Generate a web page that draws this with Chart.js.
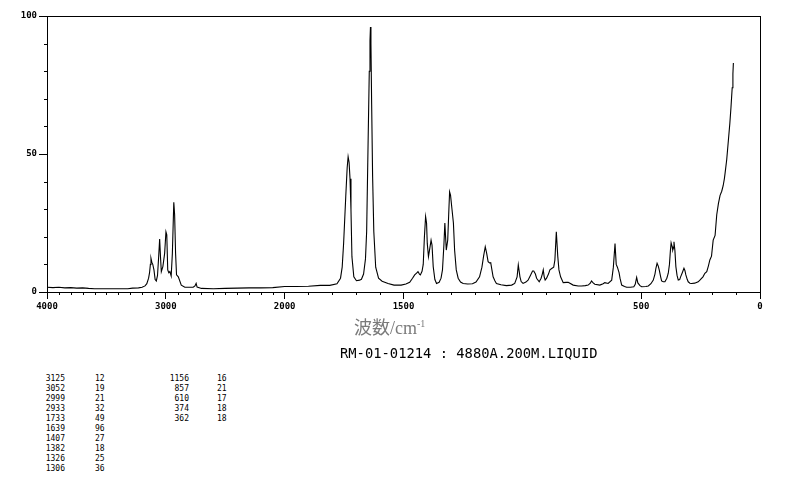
<!DOCTYPE html>
<html>
<head>
<meta charset="utf-8">
<script src="https://cdn.jsdelivr.net/npm/chart.js@4/dist/chart.umd.min.js"></script>
<style>
    body { margin: 0; background: #fff; width: 794px; height: 482px; position: relative; overflow: hidden; }
    #wrap { position: absolute; left: 0; top: 0; width: 794px; height: 322px; }
    .txt { position: absolute; white-space: pre; color: #000; }
    #xlabel { left: 354px; top: 318px; font-family: "Liberation Serif", "Noto Sans CJK JP", serif; font-size: 18px; color: #7a7a7a; line-height: 20px; }
    #xlabel sup { font-size: 10px; vertical-align: 7px; line-height: 0; }
    #sample { left: 340px; top: 346px; font-family: "DejaVu Sans Mono", monospace; font-size: 13.8px; line-height: 14px; }
    .col { position: absolute; top: 374px; font-family: "DejaVu Sans Mono", monospace; font-size: 8px; line-height: 10px; white-space: pre; }
</style>
</head>
<body>
<div id="wrap"><canvas id="chart"></canvas></div>
<div class="txt" id="xlabel">波数/cm<sup>-1</sup></div>
<div class="txt" id="sample">RM-01-01214 : 4880A.200M.LIQUID</div>
<div id="table"></div>
<script>
// spectrum (wavenumber cm-1, relative intensity)
const wavenumbers = [
    4000, 3950, 3900, 3850, 3800, 3750, 3700, 3650, 3600, 3500, 3400, 3320, 3280, 3230, 3200, 3175, 3160, 3145, 3137, 3130,
    3125, 3118, 3110, 3100, 3090, 3080, 3070, 3060, 3052, 3045, 3038, 3025, 3010, 2999, 2992, 2984, 2975, 2966, 2955, 2945,
    2933, 2926, 2918, 2910, 2895, 2870, 2840, 2770, 2755, 2745, 2737, 2700, 2600, 2500, 2400, 2300, 2200, 2100, 2000,
    1950, 1900, 1850, 1810, 1780, 1765, 1758, 1752, 1743, 1737, 1733, 1729, 1725, 1721, 1717, 1709, 1698, 1685, 1677, 1668,
    1660, 1655, 1649, 1644, 1641, 1639, 1637, 1634, 1630, 1625, 1617, 1605, 1590, 1565, 1540, 1510, 1490, 1474, 1462, 1453,
    1445, 1439, 1433, 1429, 1422, 1417, 1412, 1407, 1403, 1400, 1395, 1389, 1384, 1380, 1375, 1368, 1361, 1350, 1342, 1336,
    1330, 1326, 1320, 1314, 1309, 1306, 1302, 1296, 1290, 1285, 1278, 1270, 1260, 1249, 1230, 1210, 1195, 1180, 1170, 1163,
    1156, 1150, 1144, 1138, 1133, 1128, 1123, 1115, 1109, 1090, 1067, 1045, 1032, 1022, 1017, 1010, 1005, 997, 985,
    976, 966, 957, 952, 945, 940, 929, 921, 916, 912, 908, 904, 898, 890, 884, 875, 868, 863, 857,
    851, 846, 839, 828, 815, 807, 786, 765, 751, 735, 723, 714, 709, 702, 695, 674, 660, 653, 639,
    624, 617, 610, 605, 600, 593, 589, 582, 570, 561, 545, 531, 525, 519, 514, 505,
    498, 480, 470, 459, 449, 442, 438, 433, 428, 424, 418, 414, 407, 400, 392, 386, 381, 377, 374, 370,
    367, 364, 362, 358, 354, 349, 344, 338, 334, 327, 320, 316, 312, 306, 302, 295, 288, 275, 260, 253,
    240, 232, 224, 217, 211, 204, 197, 189, 182, 175, 168, 161, 155, 150, 147, 140, 133, 127, 122, 117,
    114, 112
];
const intensity = [
    1.7, 1.6, 1.7, 1.5, 1.6, 1.4, 1.5, 1.3, 1.2, 1.2, 1.2, 1.2, 1.4, 1.5, 1.7, 2.2, 3, 5, 7, 10,
    12.2, 10.8, 10, 8, 4.5, 4, 6, 13, 19.2, 12.8, 7.4, 9.2, 14, 21.8, 20.7, 8, 7, 7.4, 5.8, 14,
    32.5, 28, 14, 6.2, 5.5, 2.5, 1.7, 1.7, 2.2, 3.1, 1.8, 1.3, 1.2, 1.3, 1.4, 1.5, 1.5, 1.6, 2.0,
    2.0, 2.1, 2.4, 2.4, 3.0, 5, 9, 17.6, 34.5, 45, 49, 47, 41, 29.7, 12.8, 5.5, 4.1, 4.3, 4.6, 6.5,
    12, 22, 54, 80, 91, 96, 90, 68, 42, 22, 9, 5, 3.9, 3.1, 2.5, 2.5, 2.9, 3.5, 5, 6.2,
    6.8, 7.4, 6.5, 6.2, 7.5, 10, 20, 27.3, 25, 17.6, 12.8, 16, 18.8, 17, 9.2, 4.5, 3.1, 3.5, 5, 8,
    17, 25, 15.2, 18.8, 30, 36.3, 35, 30, 25, 15.2, 8, 5, 3.6, 3.1, 2.9, 3.0, 3.6, 5.5, 9, 13,
    16.4, 14, 11, 10.5, 10.6, 8, 5.5, 4, 3.1, 2.6, 2.3, 2.5, 3.1, 5.5, 9.8, 5.5, 3.8, 3.1, 3.6,
    4.3, 6, 7.6, 7.6, 6.5, 5, 3.7, 5, 6.5, 8, 5.5, 4.3, 5, 6.5, 8, 8.6, 9, 11.6, 21.8,
    13, 8, 5.5, 3.4, 3.5, 3.5, 2.5, 2.2, 2.2, 2.3, 2.5, 3.2, 4, 3.3, 2.8, 2.5, 3, 3.4, 3.1,
    4.3, 9, 17.6, 10, 9, 7, 5, 2.5, 2, 1.7, 1.7, 1.9, 2.8, 5.3, 3.3, 2.3,
    1.9, 2, 2.2, 3, 4.3, 6.5, 8.6, 10.4, 9.4, 8, 5.5, 4, 3.7, 3.7, 5, 6.8, 10, 15, 17.8, 16.5,
    15.2, 16, 18.2, 15, 9.2, 6, 4.3, 4.5, 5.5, 7, 8.6, 7.8, 6.2, 4.5, 3.7, 3.2, 3.1, 3.2, 3.7, 4.3,
    5.5, 6.8, 7.4, 9.5, 11.6, 13, 18.8, 20.5, 28, 32, 35, 36.5, 38.5, 41, 43, 48, 55, 61, 67, 74,
    79, 83
];

// peak list printed under the chart
const peakWn = [3125, 3052, 2999, 2933, 1733, 1639, 1407, 1382, 1326, 1306, 1156, 857, 610, 374, 362];
const peakInt = [12, 19, 21, 32, 49, 96, 27, 18, 25, 36, 16, 21, 17, 18, 18];

const xTickLabels = [4000, 3000, 2000, 1500, 500, 0];
const yTickLabels = [0, 50, 100];

const MONO = '"DejaVu Sans Mono", monospace';

// above 2000 cm-1 the axis is drawn at half scale
function toAxis(v) {
    return v <= 2000 ? v : 2000 + (v - 2000) / 2;
}

const points = wavenumbers.map(function (w, i) {
    return { x: toAxis(w), y: intensity[i] };
});

// box round the plot plus the short minor ticks
const framePlugin = {
    id: 'frame',
    afterDraw: function (chart) {
        const ctx = chart.ctx;
        const a = chart.chartArea;
        const xs = chart.scales.x;
        const ys = chart.scales.y;
        ctx.save();
        ctx.strokeStyle = '#000';
        ctx.lineWidth = 1;
        ctx.strokeRect(Math.round(a.left) + 0.5, Math.round(a.top) + 0.5,
            Math.round(a.right - a.left), Math.round(a.bottom - a.top));
        ctx.beginPath();
        for (let v = 100; v < 4000; v += 100) {
            if (xTickLabels.indexOf(v) >= 0) continue;
            const px = Math.round(xs.getPixelForValue(toAxis(v))) + 0.5;
            ctx.moveTo(px, a.bottom);
            ctx.lineTo(px, a.bottom + 3);
        }
        for (let v = 10; v < 100; v += 10) {
            if (yTickLabels.indexOf(v) >= 0) continue;
            const py = Math.round(ys.getPixelForValue(v)) + 0.5;
            ctx.moveTo(a.left, py);
            ctx.lineTo(a.left - 3, py);
        }
        ctx.stroke();
        ctx.restore();
    }
};

const ctx = document.getElementById('chart').getContext('2d');
const myChart = new Chart(ctx, {
    type: 'line',
    data: {
        datasets: [{
            data: points,
            borderColor: '#000',
            borderWidth: 1.1,
            pointRadius: 0,
            tension: 0,
            fill: false
        }]
    },
    options: {
        responsive: true,
        maintainAspectRatio: false,
        animation: false,
        layout: { padding: { top: 16, right: 34, left: 0, bottom: 0 } },
        plugins: {
            legend: { display: false },
            tooltip: { enabled: false }
        },
        scales: {
            x: {
                type: 'linear',
                min: 0,
                max: 3000,
                reverse: true,
                afterBuildTicks: function (scale) {
                    scale.ticks = xTickLabels.map(function (v) { return { value: toAxis(v) }; });
                },
                afterFit: function (scale) { scale.height = 30; },
                ticks: {
                    autoSkip: false,
                    maxRotation: 0,
                    padding: 2,
                    color: '#000',
                    font: { family: MONO, size: 9, weight: 'bold' },
                    callback: function (value, index) { return String(xTickLabels[index]); }
                },
                grid: { drawOnChartArea: false, tickLength: 7, color: '#000' },
                border: { color: '#000', width: 1 }
            },
            y: {
                min: 0,
                max: 100,
                afterBuildTicks: function (scale) {
                    scale.ticks = yTickLabels.map(function (v) { return { value: v }; });
                },
                afterFit: function (scale) { scale.width = 47; },
                ticks: {
                    padding: 2,
                    color: '#000',
                    font: { family: MONO, size: 9, weight: 'bold' }
                },
                grid: { drawOnChartArea: false, tickLength: 8, color: '#000' },
                border: { color: '#000', width: 1 }
            }
        }
    },
    plugins: [framePlugin]
});

// peak table: two blocks of ten rows
const table = document.getElementById('table');
function addCol(values, left, width, align) {
    const d = document.createElement('div');
    d.className = 'col';
    d.style.left = left + 'px';
    d.style.width = width + 'px';
    d.style.textAlign = align;
    d.textContent = values.join('\n');
    table.appendChild(d);
}
addCol(peakWn.slice(0, 10), 35, 30, 'right');
addCol(peakInt.slice(0, 10), 95, 20, 'left');
addCol(peakWn.slice(10), 159, 30, 'right');
addCol(peakInt.slice(10), 217, 20, 'left');
</script>
</body>
</html>
